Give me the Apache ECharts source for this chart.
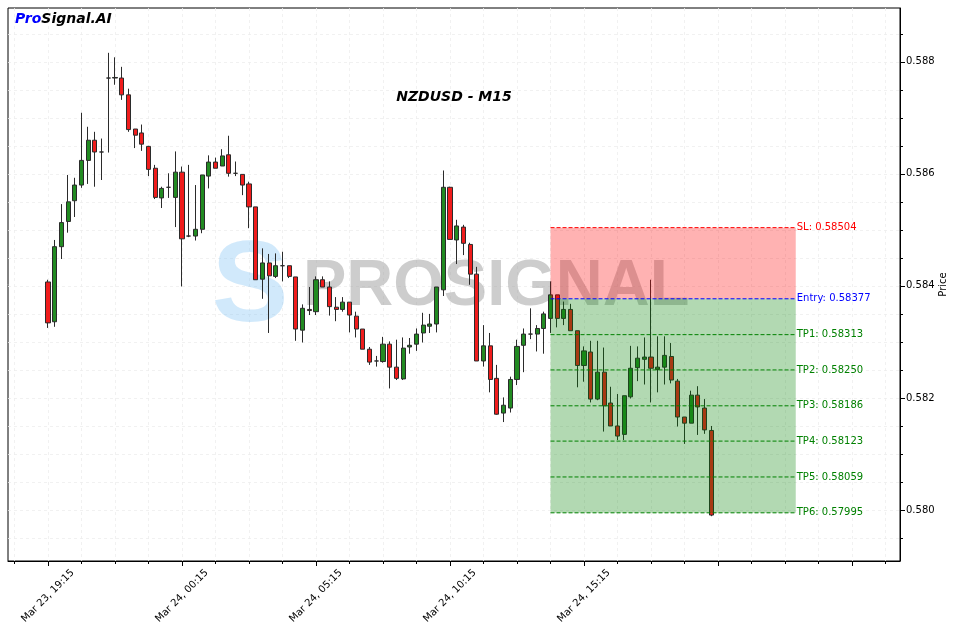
<!DOCTYPE html>
<html><head><meta charset="utf-8">
<script src="https://cdn.jsdelivr.net/npm/echarts@6/dist/echarts.min.js"></script>
<style>html,body{margin:0;padding:0;background:#fff}#c{width:956px;height:632px}</style>
</head><body><div id="c"></div>
<script>
// ---- data (NZDUSD M15, 100 candles) ----
const opens = [0.58407,0.58336,0.58470,0.58515,0.58552,0.58580,0.58624,0.58660,0.58639,0.58771,
0.58771,0.58771,0.58741,0.58680,0.58673,0.58649,0.58610,0.58557,0.58576,0.58558,
0.58603,0.58489,0.58489,0.58501,0.58596,0.58621,0.58614,0.58634,0.58601,0.58599,
0.58582,0.58541,0.58412,0.58441,0.58417,0.58436,0.58436,0.58416,0.58321,0.58358,
0.58354,0.58411,0.58398,0.58362,0.58358,0.58371,0.58346,0.58323,0.58287,0.58266,
0.58265,0.58296,0.58255,0.58234,0.58291,0.58296,0.58316,0.58328,0.58332,0.58393,
0.58576,0.58482,0.58505,0.58474,0.58421,0.58266,0.58293,0.58235,0.58173,0.58182,
0.58233,0.58294,0.58314,0.58314,0.58324,0.58342,0.58384,0.58342,0.58358,0.58320,
0.58258,0.58282,0.58198,0.58246,0.58191,0.58150,0.58135,0.58202,0.58254,0.58269,
0.58273,0.58251,0.58255,0.58274,0.58230,0.58166,0.58155,0.58205,0.58182,0.58142];
const closes = [0.58334,0.58470,0.58513,0.58550,0.58580,0.58624,0.58660,0.58639,0.58639,0.58771,
0.58772,0.58741,0.58679,0.58669,0.58653,0.58608,0.58558,0.58574,0.58576,0.58603,
0.58484,0.58489,0.58501,0.58598,0.58621,0.58610,0.58632,0.58601,0.58601,0.58580,
0.58541,0.58411,0.58441,0.58418,0.58436,0.58436,0.58417,0.58323,0.58360,0.58356,
0.58411,0.58398,0.58363,0.58358,0.58371,0.58348,0.58323,0.58287,0.58264,0.58266,
0.58296,0.58255,0.58235,0.58289,0.58294,0.58314,0.58330,0.58332,0.58398,0.58576,
0.58483,0.58507,0.58476,0.58421,0.58266,0.58293,0.58233,0.58171,0.58187,0.58233,
0.58292,0.58314,0.58314,0.58324,0.58350,0.58384,0.58342,0.58358,0.58320,0.58258,
0.58284,0.58198,0.58246,0.58186,0.58150,0.58132,0.58204,0.58253,0.58271,0.58273,
0.58253,0.58255,0.58276,0.58232,0.58166,0.58155,0.58205,0.58184,0.58143,0.57991];
const lows = [0.58325,0.58327,0.58448,0.58495,0.58523,0.58575,0.58582,0.58577,0.58589,0.58638,
0.58759,0.58732,0.58675,0.58646,0.58641,0.58596,0.58555,0.58539,0.58557,0.58505,
0.58399,0.58487,0.58481,0.58494,0.58574,0.58610,0.58614,0.58595,0.58596,0.58562,
0.58503,0.58411,0.58377,0.58316,0.58414,0.58408,0.58414,0.58302,0.58299,0.58348,
0.58348,0.58398,0.58347,0.58337,0.58354,0.58317,0.58308,0.58287,0.58259,0.58256,
0.58263,0.58217,0.58232,0.58232,0.58279,0.58284,0.58299,0.58316,0.58317,0.58382,
0.58483,0.58439,0.58455,0.58402,0.58266,0.58256,0.58210,0.58170,0.58157,0.58174,
0.58223,0.58246,0.58305,0.58283,0.58279,0.58316,0.58326,0.58330,0.58320,0.58219,
0.58229,0.58192,0.58196,0.58140,0.58150,0.58125,0.58125,0.58199,0.58230,0.58224,
0.58192,0.58210,0.58224,0.58226,0.58149,0.58118,0.58155,0.58134,0.58136,0.57989];
const highs = [0.58411,0.58482,0.58546,0.58598,0.58593,0.58709,0.58684,0.58675,0.58663,0.58816,
0.58808,0.58791,0.58752,0.58680,0.58688,0.58650,0.58616,0.58577,0.58601,0.58640,
0.58613,0.58616,0.58580,0.58598,0.58633,0.58629,0.58644,0.58668,0.58622,0.58599,
0.58586,0.58541,0.58467,0.58457,0.58458,0.58461,0.58436,0.58416,0.58367,0.58398,
0.58417,0.58417,0.58408,0.58380,0.58380,0.58371,0.58354,0.58323,0.58291,0.58275,
0.58309,0.58301,0.58304,0.58308,0.58307,0.58324,0.58352,0.58350,0.58398,0.58606,
0.58577,0.58518,0.58509,0.58477,0.58434,0.58330,0.58316,0.58259,0.58201,0.58238,
0.58304,0.58324,0.58360,0.58330,0.58354,0.58408,0.58384,0.58372,0.58368,0.58320,
0.58292,0.58302,0.58302,0.58290,0.58220,0.58207,0.58204,0.58293,0.58292,0.58308,
0.58411,0.58310,0.58310,0.58298,0.58234,0.58166,0.58213,0.58221,0.58198,0.58150];

// x tick labels (candle index -> time)
const xLabelIdx = [0, 20, 40, 60, 80];
const xLabels = ['Mar 23, 19:15', 'Mar 24, 00:15', 'Mar 24, 05:15', 'Mar 24, 10:15', 'Mar 24, 15:15'];
const xMajorTicks = [0, 20, 40, 60, 80, 100, 120];
const xMinorTicks = [-5,0,5,10,15,20,25,30,35,40,45,50,55,60,65,70,75,80,85,90,95,100,105,110,115,120,125];
const yLabelVals = [0.580, 0.582, 0.584, 0.586, 0.588];
const yMinorTicks = [0.5795,0.5800,0.5805,0.5810,0.5815,0.5820,0.5825,0.5830,0.5835,0.5840,0.5845,0.5850,0.5855,0.5860,0.5865,0.5870,0.5875,0.5880,0.5885];

// trade levels
const levelNames = ['SL', 'Entry', 'TP1', 'TP2', 'TP3', 'TP4', 'TP5', 'TP6'];
const levelValues = [0.58504, 0.58377, 0.58313, 0.58250, 0.58186, 0.58123, 0.58059, 0.57995];
const levelColors = ['#ff0000', '#0000ff', '#008000', '#008000', '#008000', '#008000', '#008000', '#008000'];
const zoneStart = 75, zoneEnd = 111.6;

const xMin = -5.97, xMax = 127.16, yMin = 0.57909, yMax = 0.58896;

const candleData = opens.map((o, i) => [i, o, closes[i], lows[i], highs[i]]);
const zoneData = [[zoneStart, levelValues[0], levelValues[1]], [zoneStart, levelValues[1], levelValues[7]]];
const zoneColors = ['rgba(255,0,0,0.3)', 'rgba(0,128,0,0.3)'];
const lineData = levelValues.map(v => [zoneStart, v]);

const FONT = 'DejaVu Sans';
const gridLine = {show: true, lineStyle: {color: '#eeeeee', width: 0.8, type: [3, 3]}};

const chart = echarts.init(document.getElementById('c'), null, {renderer: 'canvas'});
chart.setOption({
  animation: false,
  backgroundColor: '#ffffff',
  grid: {left: 8, right: 56, top: 8, bottom: 71, show: true, borderColor: '#000', borderWidth: 1, backgroundColor: 'transparent', containLabel: false, outerBoundsMode: 'none'},
  xAxis: [{
    type: 'value', position: 'bottom', min: xMin, max: xMax,
    axisLine: {show: true, onZero: false, lineStyle: {color: '#000', width: 1}},
    axisTick: {show: true, customValues: xMinorTicks, length: 3, lineStyle: {color: '#000'}},
    axisLabel: {show: true, customValues: xLabelIdx, formatter: v => xLabels[xLabelIdx.indexOf(v)] || '',
      rotate: 45, align: 'center', verticalAlign: 'middle', margin: 35, fontSize: 10, fontFamily: FONT, color: '#000'},
    splitLine: gridLine
  }, {
    type: 'value', position: 'bottom', min: xMin, max: xMax,
    axisLine: {show: false, onZero: false},
    axisTick: {show: true, customValues: xMajorTicks, length: 5, lineStyle: {color: '#000'}},
    axisLabel: {show: false}, splitLine: {show: false}
  }],
  yAxis: [{
    type: 'value', position: 'right', min: yMin, max: yMax,
    axisLine: {show: true, onZero: false, lineStyle: {color: '#000'}},
    axisTick: {show: true, customValues: yMinorTicks, length: 3, lineStyle: {color: '#000'}},
    axisLabel: {show: true, customValues: yLabelVals, formatter: v => v.toFixed(3), margin: 6, fontSize: 10, fontFamily: FONT, color: '#000'},
    splitLine: gridLine,
    name: 'Price', nameLocation: 'middle', nameGap: 38, nameRotate: 90, nameMoveOverlap: false,
    nameTextStyle: {fontSize: 10, fontFamily: FONT, color: '#000'}
  }, {
    type: 'value', position: 'right', min: yMin, max: yMax,
    axisLine: {show: false, onZero: false},
    axisTick: {show: true, customValues: yLabelVals, length: 5, lineStyle: {color: '#000'}},
    axisLabel: {show: false}, splitLine: {show: false}
  }],
  graphic: [
    {type: 'text', z: 1, x: 250, y: 289, style: {text: 'S', font: 'bold 115px "Liberation Sans"', fill: 'rgba(140,200,245,0.4)', align: 'center', verticalAlign: 'middle'}},
    {type: 'text', z: 1, x: 303, y: 287, style: {text: 'PROSIGNAL', font: 'bold 65px "Liberation Sans"', fill: 'rgba(150,150,150,0.48)', align: 'left', verticalAlign: 'middle'}},
    {type: 'text', z: 20, x: 454, y: 97, style: {text: 'NZDUSD - M15', font: 'italic bold 14px "DejaVu Sans"', fill: '#000', align: 'center', verticalAlign: 'middle'}},
    {type: 'text', z: 20, x: 15, y: 19, style: {text: '{a|Pro}{b|Signal.AI}', verticalAlign: 'middle', align: 'left',
      rich: {a: {fill: '#0000ff', font: 'italic bold 14px "DejaVu Sans"'}, b: {fill: '#000', font: 'italic bold 14px "DejaVu Sans"'}}}}
  ],
  series: [{
    type: 'candlestick', xAxisIndex: 0, yAxisIndex: 0, z: 3,
    data: candleData, encode: {x: 0, y: [1, 2, 3, 4]},
    barWidth: 4.6,
    itemStyle: {color: '#228b22', color0: '#f01c1c', borderColor: '#2b2b2b', borderColor0: '#2b2b2b', borderColorDoji: '#2b2b2b', borderWidth: 1},
    emphasis: {disabled: true}
  }, {
    type: 'custom', xAxisIndex: 0, yAxisIndex: 0, z: 5, silent: true,
    data: zoneData,
    renderItem: (params, api) => {
      const d = zoneData[params.dataIndex];
      const p0 = api.coord([d[0], d[1]]);
      const p1 = api.coord([zoneEnd, d[2]]);
      return {type: 'rect', shape: {x: p0[0], y: p0[1], width: p1[0] - p0[0], height: p1[1] - p0[1]}, style: {fill: zoneColors[params.dataIndex]}};
    }
  }, {
    type: 'custom', xAxisIndex: 0, yAxisIndex: 0, z: 6, silent: true, clip: false,
    data: lineData,
    renderItem: (params, api) => {
      const i = params.dataIndex;
      const p0 = api.coord([zoneStart, levelValues[i]]);
      const p1 = api.coord([zoneEnd, levelValues[i]]);
      return {type: 'group', children: [
        {type: 'line', shape: {x1: p0[0], y1: p0[1], x2: p1[0], y2: p1[1]}, style: {stroke: levelColors[i], lineWidth: 1, lineDash: [4, 2]}},
        {type: 'text', x: p1[0] + 1, y: p1[1], style: {text: levelNames[i] + ': ' + levelValues[i].toFixed(5), fill: levelColors[i], font: '10px "DejaVu Sans"', align: 'left', verticalAlign: 'middle'}}
      ]};
    }
  }]
});
</script></body></html>
